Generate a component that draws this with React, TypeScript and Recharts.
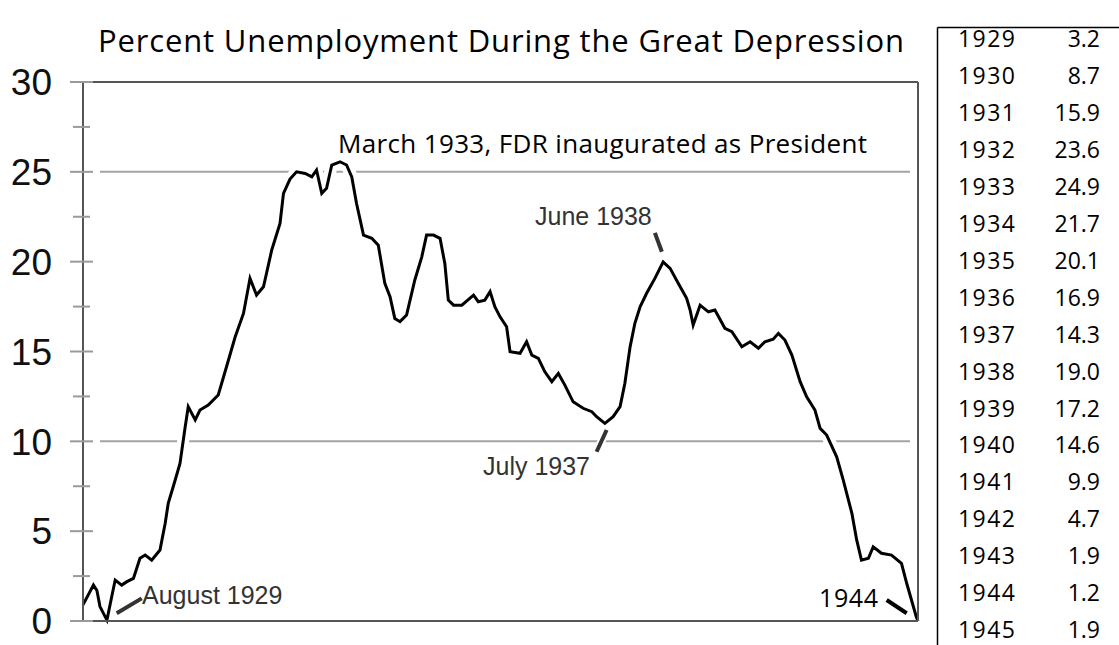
import React from 'react';
import { LineChart, Line, XAxis, YAxis, ReferenceLine, CartesianGrid } from 'recharts';

// month index since the start of the chart (0..192) and percent unemployed
const months = [
  0, 2.4, 3.2, 3.9, 5.5, 6.6, 7.4, 8.9, 10.1, 11.6, 13.1, 14.3, 15.8, 17.7, 18.9, 19.6, 21.2, 22.3,
  23.5, 24.2, 25.8, 26.9, 28.8, 31.1, 33.0, 35.0, 36.9, 38.4, 39.9, 41.5, 43.4, 45.3, 46.1, 47.6,
  49.1, 51.1, 52.6, 53.7, 54.9, 56.0, 57.2, 59.1, 60.6, 61.8, 62.9, 64.5, 66.4, 67.9, 69.4, 70.6,
  71.7, 72.9, 74.4, 76.3, 77.9, 79.0, 80.6, 82.1, 83.2, 84.0, 85.2, 87.1, 89.8, 90.9, 92.4, 93.6,
  94.7, 95.9, 97.4, 98.2, 100.5, 102.0, 103.2, 104.7, 106.2, 107.8, 109.3, 110.8, 112.7, 115.0,
  117.0, 118.1, 120.0, 121.9, 123.5, 124.6, 125.8, 126.9, 128.1, 129.6, 131.5, 133.4, 135.0, 136.9,
  138.8, 139.6, 140.3, 141.9, 143.8, 145.3, 147.6, 149.2, 151.5, 153.4, 155.3, 156.8, 158.7, 159.9,
  161.4, 163.0, 164.9, 166.4, 168.3, 169.5, 171.0, 173.3, 174.8, 176.8, 177.9, 179.0, 180.6, 181.7,
  183.6, 185.9, 188.2, 189.4, 191.6, 192,
];
const rates = [
  0.9, 2.0, 1.7, 0.8, 0.05, 1.35, 2.28, 2.0, 2.19, 2.37, 3.49, 3.67, 3.39, 3.95, 5.44, 6.55, 7.85, 8.77,
  10.81, 11.93, 11.19, 11.74, 12.02, 12.58, 14.15, 15.82, 17.12, 19.07, 18.14, 18.6, 20.65, 22.13, 23.8, 24.6,
  25.0, 24.91, 24.72, 25.1, 23.8, 24.08, 25.38, 25.56, 25.38, 24.72, 23.24, 21.48, 21.3, 20.92, 18.79, 18.05,
  16.84, 16.66, 17.03, 18.98, 20.27, 21.48, 21.48, 21.3, 19.9, 17.86, 17.58, 17.58, 18.14, 17.77, 17.86, 18.33,
  17.49, 16.93, 16.38, 14.99, 14.9, 15.54, 14.8, 14.62, 13.87, 13.32, 13.78, 13.13, 12.2, 11.84,
  11.65, 11.37, 11.0, 11.37, 11.93, 13.23, 15.26, 16.57, 17.49, 18.24, 19.07, 19.99, 19.63, 18.79,
  17.96, 17.31, 16.47, 17.58, 17.21, 17.31, 16.29, 16.1, 15.26, 15.54, 15.18, 15.54, 15.68, 16.01,
  15.64, 14.8, 13.32, 12.48, 11.74, 10.72, 10.35, 9.14, 7.85, 5.99, 4.51, 3.39, 3.49, 4.13,
  3.77, 3.67, 3.21, 2.1, 0.24, 0,
];

const yTicks = [0, 2.5, 5, 7.5, 10, 12.5, 15, 17.5, 20, 22.5, 25, 27.5, 30];
const gridValues = [25, 10];

// annual table on the right
const tableYears = [1929, 1930, 1931, 1932, 1933, 1934, 1935, 1936, 1937, 1938, 1939, 1940, 1941, 1942, 1943, 1944, 1945];
const tableRates = [3.2, 8.7, 15.9, 23.6, 24.9, 21.7, 20.1, 16.9, 14.3, 19.0, 17.2, 14.6, 9.9, 4.7, 1.9, 1.2, 1.9];

// leader ticks for the annotations, in chart coordinates [month, percent]
const leaders = [
  { from: [7.75, 0.43], to: [13.5, 1.26], color: '#333' },
  { from: [131.5, 21.6], to: [133.1, 20.55], color: '#333' },
  { from: [120.4, 10.63], to: [118.1, 9.42], color: '#333' },
  { from: [184.8, 1.17], to: [189.4, 0.43], color: '#000' },
];

const data = months.map((m, i) => ({ m, rate: rates[i] }));

const arial = '"Liberation Sans", Arial, sans-serif';
const calibri = '"Open Sans", "Noto Sans", sans-serif';

function YTick(props: any) {
  const { x, y, payload } = props;
  const major = payload.value % 5 === 0;
  return (
    <g>
      <line x1={x - (major ? 13 : 10)} x2={x + (major ? 10 : 7)} y1={y} y2={y} stroke="#9a9a9a" strokeWidth={2} />
      {major && (
        <text x={x - 31} y={y} dy="0.36em" textAnchor="end" fontFamily={arial} fontSize={37} fill="#111">
          {payload.value}
        </text>
      )}
    </g>
  );
}

const gridRows = (args: any) => {
  const { yAxis, offset } = args;
  return gridValues.map((v) =>
    yAxis && typeof yAxis.scale === 'function'
      ? yAxis.scale(v)
      : offset.top + offset.height * (1 - v / 30)
  );
};

export default function App() {
  return (
    <div style={{ position: 'absolute', left: 0, top: 0, width: 1119, height: 645, background: '#fff' }}>
      <LineChart width={930} height={645} data={data} margin={{ top: 82, right: 12, bottom: 24, left: 0 }}>
        <CartesianGrid
          vertical={false}
          x={100}
          width={810}
          horizontalCoordinatesGenerator={gridRows}
          stroke="#a3a3a3"
          strokeWidth={2}
        />
        <XAxis type="number" dataKey="m" domain={[0, 192]} hide />
        <YAxis
          domain={[0, 30]}
          ticks={yTicks}
          interval={0}
          width={83}
          tickSize={0}
          tickMargin={0}
          tickLine={false}
          axisLine={{ stroke: '#555', strokeWidth: 2 }}
          tick={<YTick />}
        />
        <Line
          type="linear"
          dataKey="rate"
          stroke="#fff"
          strokeWidth={12}
          dot={false}
          isAnimationActive={false}
        />
        <Line
          type="linear"
          dataKey="rate"
          stroke="#000"
          strokeWidth={3}
          dot={false}
          isAnimationActive={false}
        />
        <ReferenceLine y={30} stroke="#555" strokeWidth={2} />
        <ReferenceLine y={0} stroke="#555" strokeWidth={2} />
        <ReferenceLine x={192} stroke="#555" strokeWidth={2} />
        {leaders.map((l, i) => (
          <ReferenceLine
            key={'h' + i}
            segment={[{ x: l.from[0], y: l.from[1] }, { x: l.to[0], y: l.to[1] }]}
            stroke="#fff"
            strokeWidth={8}
            ifOverflow="visible"
          />
        ))}
        {leaders.map((l, i) => (
          <ReferenceLine
            key={'l' + i}
            segment={[{ x: l.from[0], y: l.from[1] }, { x: l.to[0], y: l.to[1] }]}
            stroke={l.color}
            strokeWidth={4}
            ifOverflow="visible"
          />
        ))}
      </LineChart>
      <svg
        width={1119}
        height={645}
        style={{ position: 'absolute', left: 0, top: 0, pointerEvents: 'none' }}
      >
        <text x={98} y={52} fontFamily={calibri} fontSize={31} textLength={806} fill="#000">
          Percent Unemployment During the Great Depression
        </text>
        <text x={338} y={153} fontFamily={calibri} fontSize={26} textLength={529} fill="#000">
          March 1933, FDR inaugurated as President
        </text>
        <text x={535} y={225} fontFamily={arial} fontSize={25} fill="#333">June 1938</text>
        <text x={483} y={475} fontFamily={arial} fontSize={25} fill="#333">July 1937</text>
        <text x={142} y={604} fontFamily={arial} fontSize={25} fill="#333">August 1929</text>
        <text x={819} y={607} fontFamily={calibri} fontSize={25} textLength={59} fill="#000">1944</text>

        <line x1={937.5} y1={27.5} x2={1119} y2={27.5} stroke="#000" strokeWidth={1.5} />
        <line x1={937.5} y1={27.5} x2={937.5} y2={645} stroke="#000" strokeWidth={1.5} />
        {tableYears.map((yr, i) => (
          <g key={yr}>
            <text x={958} y={47 + i * 36.95} fontFamily={calibri} fontSize={23} textLength={57} fill="#000">
              {yr}
            </text>
            <text x={1100} y={47 + i * 36.95} fontFamily={calibri} fontSize={23} textAnchor="end" fill="#000">
              {tableRates[i].toFixed(1)}
            </text>
          </g>
        ))}
      </svg>
    </div>
  );
}
